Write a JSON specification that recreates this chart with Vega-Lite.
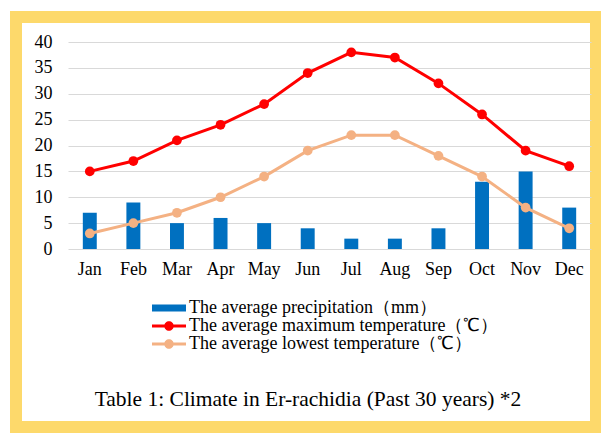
{
  "$schema": "https://vega.github.io/schema/vega-lite/v6.json",
  "width": 580,
  "height": 410,
  "autosize": {"type": "none"},
  "padding": {"left": 16, "top": 17, "right": 5, "bottom": 6},
  "background": "white",
  "config": {
    "view": {"fill": "white", "stroke": "#FDD96B", "strokeWidth": 12},
    "font": "Liberation Serif",
    "axis": {"labelFont": "Liberation Serif", "labelFontSize": 18, "labelColor": "#000000", "title": null, "domain": false, "ticks": false},
    "legend": {"labelFont": "Liberation Serif", "labelFontSize": 18, "labelColor": "#000000"}
  },
  "title": {
    "text": "Table 1: Climate in Er-rachidia (Past 30 years)  *2",
    "orient": "bottom",
    "anchor": "middle",
    "offset": -38,
    "dx": 2,
    "font": "Liberation Serif",
    "fontSize": 21.5,
    "fontWeight": "normal",
    "color": "#000000"
  },
  "data": {
    "values": [
      {"month": "Jan", "series": "The average precipitation（mm）", "value": 7},
      {"month": "Feb", "series": "The average precipitation（mm）", "value": 9},
      {"month": "Mar", "series": "The average precipitation（mm）", "value": 5},
      {"month": "Apr", "series": "The average precipitation（mm）", "value": 6},
      {"month": "May", "series": "The average precipitation（mm）", "value": 5},
      {"month": "Jun", "series": "The average precipitation（mm）", "value": 4},
      {"month": "Jul", "series": "The average precipitation（mm）", "value": 2},
      {"month": "Aug", "series": "The average precipitation（mm）", "value": 2},
      {"month": "Sep", "series": "The average precipitation（mm）", "value": 4},
      {"month": "Oct", "series": "The average precipitation（mm）", "value": 13},
      {"month": "Nov", "series": "The average precipitation（mm）", "value": 15},
      {"month": "Dec", "series": "The average precipitation（mm）", "value": 8},
      {"month": "Jan", "series": "The average maximum temperature（℃）", "value": 15},
      {"month": "Feb", "series": "The average maximum temperature（℃）", "value": 17},
      {"month": "Mar", "series": "The average maximum temperature（℃）", "value": 21},
      {"month": "Apr", "series": "The average maximum temperature（℃）", "value": 24},
      {"month": "May", "series": "The average maximum temperature（℃）", "value": 28},
      {"month": "Jun", "series": "The average maximum temperature（℃）", "value": 34},
      {"month": "Jul", "series": "The average maximum temperature（℃）", "value": 38},
      {"month": "Aug", "series": "The average maximum temperature（℃）", "value": 37},
      {"month": "Sep", "series": "The average maximum temperature（℃）", "value": 32},
      {"month": "Oct", "series": "The average maximum temperature（℃）", "value": 26},
      {"month": "Nov", "series": "The average maximum temperature（℃）", "value": 19},
      {"month": "Dec", "series": "The average maximum temperature（℃）", "value": 16},
      {"month": "Jan", "series": "The average lowest temperature（℃）", "value": 3},
      {"month": "Feb", "series": "The average lowest temperature（℃）", "value": 5},
      {"month": "Mar", "series": "The average lowest temperature（℃）", "value": 7},
      {"month": "Apr", "series": "The average lowest temperature（℃）", "value": 10},
      {"month": "May", "series": "The average lowest temperature（℃）", "value": 14},
      {"month": "Jun", "series": "The average lowest temperature（℃）", "value": 19},
      {"month": "Jul", "series": "The average lowest temperature（℃）", "value": 22},
      {"month": "Aug", "series": "The average lowest temperature（℃）", "value": 22},
      {"month": "Sep", "series": "The average lowest temperature（℃）", "value": 18},
      {"month": "Oct", "series": "The average lowest temperature（℃）", "value": 14},
      {"month": "Nov", "series": "The average lowest temperature（℃）", "value": 8},
      {"month": "Dec", "series": "The average lowest temperature（℃）", "value": 4}
    ]
  },
  "encoding": {
    "x": {
      "field": "month",
      "type": "ordinal",
      "sort": ["Jan", "Feb", "Mar", "Apr", "May", "Jun", "Jul", "Aug", "Sep", "Oct", "Nov", "Dec"],
      "scale": {"range": [52, 575], "paddingInner": 0, "paddingOuter": 0},
      "axis": {"orient": "bottom", "offset": -178, "labelAngle": 0, "labelPadding": 11, "grid": false, "labelFont": "Liberation Serif"}
    },
    "y": {
      "field": "value",
      "type": "quantitative",
      "scale": {"domain": [0, 40], "range": [232, 25], "nice": false},
      "axis": {"orient": "left", "offset": -52, "labelPadding": 16, "labelFont": "Liberation Serif", "values": [0, 5, 10, 15, 20, 25, 30, 35, 40], "grid": true, "gridColor": "#D9D9D9", "gridWidth": 1}
    },
    "color": {
      "field": "series",
      "type": "nominal",
      "scale": {
        "domain": ["The average precipitation（mm）", "The average maximum temperature（℃）", "The average lowest temperature（℃）"],
        "range": ["#0070C0", "#FF0000", "#F4B183"]
      },
      "legend": {
        "orient": "none", "legendX": 144, "legendY": 282, "title": null, "padding": 0,
        "symbolSize": 100, "symbolStrokeWidth": 0, "labelOffset": 11, "rowPadding": -1, "labelLimit": 450,
        "labelFont": "Liberation Serif", "labelFontSize": 18, "labelColor": "#000000",
        "encode": {
          "symbols": {"update": {"fill": {"scale": "color", "field": "value"}, "stroke": {"value": "transparent"}, "opacity": {"value": 1}}},
          "labels": {"update": {"font": {"value": "Liberation Serif"}, "fontSize": {"value": 18}, "fill": {"value": "#000000"}}}
        }
      }
    }
  },
  "layer": [
    {
      "transform": [{"filter": "datum.series === 'The average precipitation（mm）'"}],
      "mark": {"type": "bar", "width": {"band": 0.32}}
    },
    {
      "transform": [{"filter": "datum.series !== 'The average precipitation（mm）'"}],
      "mark": {"type": "line", "strokeWidth": 3}
    },
    {
      "transform": [{"filter": "datum.series !== 'The average precipitation（mm）'"}],
      "mark": {"type": "point", "filled": true, "size": 95, "opacity": 1, "shape": "circle"}
    },
    {
      "mark": {"type": "point", "filled": true, "opacity": 0},
      "encoding": {
        "shape": {
          "field": "series",
          "type": "nominal",
          "scale": {
            "domain": ["The average precipitation（mm）", "The average maximum temperature（℃）", "The average lowest temperature（℃）"],
            "range": ["M-3.4,-0.7H3.4V0.7H-3.4Z", "M-3.4,-0.3H3.4V0.3H-3.4ZM0.95,0A0.95,0.95,0,1,1,-0.95,0A0.95,0.95,0,1,1,0.95,0Z", "M-3.4,-0.3H3.4V0.3H-3.4ZM0.95,0A0.95,0.95,0,1,1,-0.95,0A0.95,0.95,0,1,1,0.95,0Z"]
          },
          "legend": {
            "orient": "none", "legendX": 144, "legendY": 282, "title": null, "padding": 0,
            "symbolSize": 100, "symbolStrokeWidth": 0, "labelOffset": 11, "rowPadding": -1, "labelLimit": 450,
            "labelFont": "Liberation Serif", "labelFontSize": 18, "labelColor": "#000000",
            "encode": {
              "symbols": {"update": {"fill": {"scale": "color", "field": "value"}, "stroke": {"value": "transparent"}, "opacity": {"value": 1}}},
              "labels": {"update": {"font": {"value": "Liberation Serif"}, "fontSize": {"value": 18}, "fill": {"value": "#000000"}}}
            }
          }
        }
      }
    }
  ]
}
